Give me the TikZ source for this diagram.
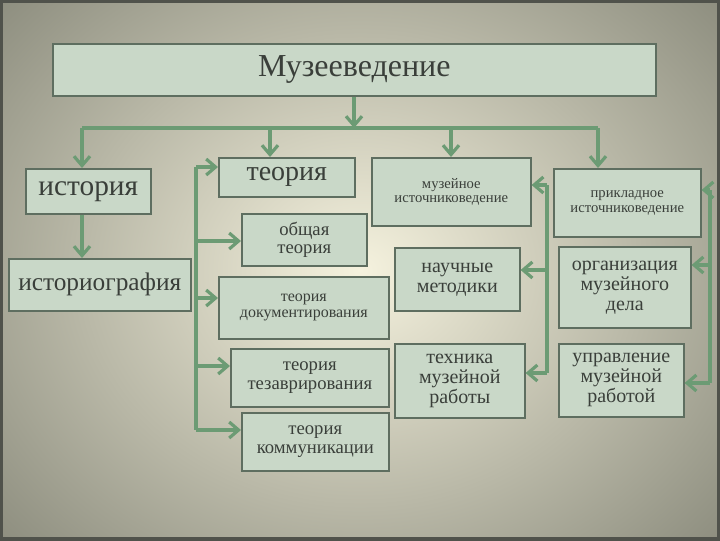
\documentclass[tikz,border=0pt]{standalone}
\usepackage{fontspec}
\setmainfont{Liberation Serif}
\usetikzlibrary{arrows.meta}
\definecolor{boxfill}{HTML}{C9D8C8}
\definecolor{boxline}{HTML}{5E6E60}
\definecolor{arr}{HTML}{6C9B74}
\definecolor{txt}{HTML}{3A3F3A}
\tikzset{
  bx/.style={draw=boxline,line width=1.2pt,fill=boxfill,text=txt,align=center,inner sep=1pt,anchor=north west},
  ar/.style={draw=arr,line width=2.4pt,-{Straight Barb[length=7pt,width=12pt]}},
  ln/.style={draw=arr,line width=2.4pt}
}
\newcommand{\bxn}[7]{\node[bx,minimum width=#4*0.75pt,minimum height=#5*0.75pt,font=\fontsize{#6}{#6}\selectfont] (#1) at (#2,#3) {#7};}
\begin{document}
\begin{tikzpicture}[x=0.75pt,y=-0.75pt]
\useasboundingbox (0,0) rectangle (720,540);
\shade[inner color={rgb,255:red,245;green,242;blue,222},outer color={rgb,255:red,125;green,126;blue,112}] (-200,-200) rectangle (920,740);
\draw[draw={rgb,255:red,80;green,82;blue,75},line width=3pt] (1,1) rectangle (719,539);
\bxn{title}{52}{43}{603}{52}{24}{Музееведение}
\bxn{ist}{25}{168}{125}{45}{22}{история}
\bxn{istg}{8}{258}{182}{52}{19}{историография}
\bxn{teo}{218}{157}{136}{39}{21}{теория}
\bxn{obsh}{241}{213}{125}{52}{14}{общая\\теория}
\bxn{doc}{218}{276}{170}{62}{12}{теория\\документирования}
\bxn{tez}{230}{348}{158}{58}{14}{теория\\тезаврирования}
\bxn{kom}{241}{412}{147}{58}{14}{теория\\коммуникации}
\bxn{mus}{371}{157}{159}{68}{11}{музейное\\источниковедение}
\bxn{nauch}{394}{247}{125}{63}{15}{научные\\методики}
\bxn{tech}{394}{343}{130}{74}{15}{техника\\музейной\\работы}
\bxn{prik}{553}{168}{147}{68}{11}{прикладное\\источниковедение}
\bxn{org}{558}{246}{132}{81}{15}{организация\\музейного\\дела}
\bxn{upr}{558}{343}{125}{73}{15}{управление\\музейной\\работой}
% top bus
\coordinate (bl) at (82,128); \coordinate (br) at (598,128);
\draw[ar] (title.south -| 354,0) -- (354,128);
\draw[ln] (bl) -- (br);
\draw[ar] (bl) -- (ist.north -| bl);
\draw[ar] (270,128) -- (teo.north -| 270,0);
\draw[ar] (451,128) -- (mus.north -| 451,0);
\draw[ar] (br) -- (prik.north -| br);
\draw[ar] (ist.south -| 82,0) -- (istg.north -| 82,0);
% left bus
\coordinate (lt) at (196,167); \coordinate (lb) at (196,430);
\draw[ln] (lt) -- (lb);
\draw[ar] (lt) -- (teo.west |- lt);
\draw[ar] (196,241) -- (obsh.west |- 0,241);
\draw[ar] (196,298) -- (doc.west |- 0,298);
\draw[ar] (196,366) -- (tez.west |- 0,366);
\draw[ar] (lb) -- (kom.west |- lb);
% middle bus
\coordinate (mt) at (547,185); \coordinate (mb) at (547,373);
\draw[ln] (mt) -- (mb);
\draw[ar] (mt) -- (mus.east |- mt);
\draw[ar] (547,270) -- (nauch.east |- 0,270);
\draw[ar] (mb) -- (tech.east |- mb);
% right bus
\coordinate (rt) at (710,190); \coordinate (rb) at (710,383);
\draw[ln] (rt) -- (rb);
\draw[ar] (rt) -- (prik.east |- rt);
\draw[ar] (710,265) -- (org.east |- 0,265);
\draw[ar] (rb) -- (upr.east |- rb);
\end{tikzpicture}
\end{document}
